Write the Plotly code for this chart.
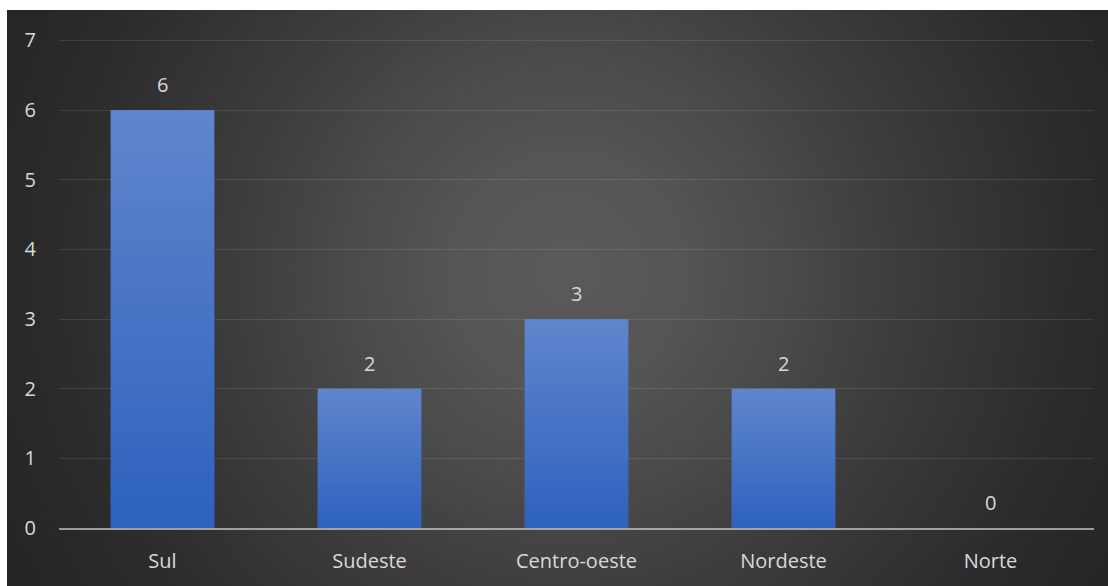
import base64
import struct
import zlib

import numpy as np
import plotly.graph_objects as go

# ---- data ----
categories = ["Sul", "Sudeste", "Centro-oeste", "Nordeste", "Norte"]
values = [6, 2, 3, 2, 0]
y_ticks = [0, 1, 2, 3, 4, 5, 6, 7]

# ---- layout geometry ----
W, H = 1108, 586
Y_MAX = 7.05
MB = 58
MT = 40 - int(round((Y_MAX - 7) * 488 / 7))
ML, MR = 59, 14
PW, PH = W - ML - MR, H - MT - MB
BG_X0, BG_Y0 = 7, 10  # dark chart area starts here (white margin left/top)
BAR_WIDTH = 0.5


def make_png(arr):
    """arr: (h, w) uint8 grayscale or (h, w, 3) uint8 RGB."""
    if arr.ndim == 2:
        h, w = arr.shape
        ctype = 0
    else:
        h, w, _ = arr.shape
        ctype = 2
    raw = b"".join(b"\x00" + arr[i].tobytes() for i in range(h))

    def chunk(tag, data):
        c = struct.pack(">I", len(data)) + tag + data
        return c + struct.pack(">I", zlib.crc32(tag + data) & 0xFFFFFFFF)

    png = b"\x89PNG\r\n\x1a\n"
    png += chunk(b"IHDR", struct.pack(">IIBBBBB", w, h, 8, ctype, 0, 0, 0))
    png += chunk(b"IDAT", zlib.compress(raw, 9))
    png += chunk(b"IEND", b"")
    return "data:image/png;base64," + base64.b64encode(png).decode()


# ---- radial gradient background ----
bw, bh = W - BG_X0, H - BG_Y0
scale = 2
gx = (np.arange(bw // scale) * scale + BG_X0).astype(float)
gy = (np.arange(bh // scale) * scale + BG_Y0).astype(float)
XX, YY = np.meshgrid(gx, gy)
cx, cy = 565.0, 270.0
R = np.sqrt((XX - cx) ** 2 + (YY - cy) ** 2)
rr = [0, 115, 221, 348, 485, 531, 620, 700]
vv = [90, 85, 74, 59, 46, 42, 37, 35]
bg_src = make_png(np.interp(R, rr, vv).round().astype(np.uint8))

# ---- vertical gradient for bars ----
top_rgb = np.array([96, 133, 204], float)
bot_rgb = np.array([46, 98, 190], float)
n = 128
tt = np.linspace(0, 1, n)[:, None]
col = (top_rgb * (1 - tt) + bot_rgb * tt).round().astype(np.uint8)
bar_grad = np.repeat(col[:, None, :], 4, axis=1)
bar_src = make_png(bar_grad)

font_family = "Open Sans, Noto Sans, sans-serif"
txt_color = "#d9d9d9"
FS = 20

fig = go.Figure(
    go.Bar(
        x=categories,
        y=values,
        width=BAR_WIDTH,
        marker=dict(color="#4472C4", line=dict(width=0)),
        hoverinfo="x+y",
    )
)

for i, (c, v) in enumerate(zip(categories, values)):
    fig.add_annotation(
        x=c, y=v, text=str(v), showarrow=False, yanchor="bottom", yshift=10,
        font=dict(family=font_family, size=FS, color=txt_color),
    )
    if v > 0:
        fig.add_layout_image(
            source=bar_src, xref="x", yref="y",
            x=i - BAR_WIDTH / 2, y=v, sizex=BAR_WIDTH, sizey=v,
            xanchor="left", yanchor="top", sizing="stretch", layer="above",
        )

fig.add_layout_image(
    source=bg_src,
    xref="paper", yref="paper",
    x=(BG_X0 - ML) / PW, y=(H - MB - BG_Y0) / PH,
    sizex=bw / PW, sizey=bh / PH,
    xanchor="left", yanchor="top",
    sizing="stretch", layer="below",
)

fig.update_layout(
    width=W, height=H,
    margin=dict(l=ML, r=MR, t=MT, b=MB, pad=0),
    paper_bgcolor="white",
    plot_bgcolor="rgba(0,0,0,0)",
    showlegend=False,
    xaxis=dict(
        showline=True, linecolor="rgba(217,217,217,0.66)", linewidth=2,
        showgrid=False, zeroline=False, ticks="",
        tickfont=dict(family=font_family, size=FS, color=txt_color),
        ticklabelstandoff=14,
    ),
    yaxis=dict(
        range=[0, Y_MAX], tickvals=y_ticks,
        showgrid=True, gridcolor="rgba(255,255,255,0.1)", gridwidth=1,
        zeroline=False, showline=False, ticks="",
        tickfont=dict(family=font_family, size=FS, color=txt_color),
        ticklabelstandoff=22,
    ),
)

fig.write_html("out.html")
